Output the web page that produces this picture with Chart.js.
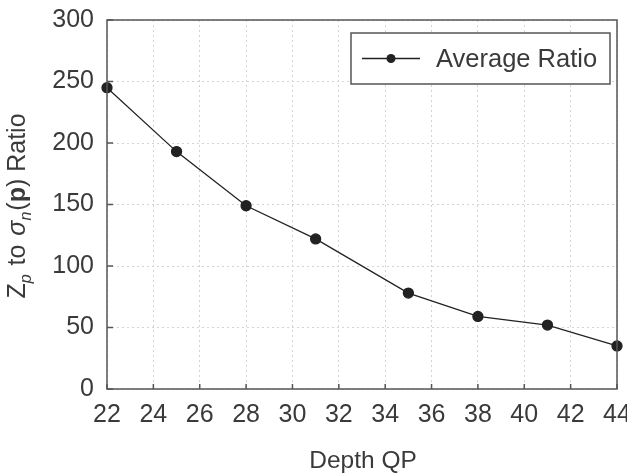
<!DOCTYPE html>
<html lang="en">
<head>
    <meta charset="UTF-8">
    <title>Average Ratio vs Depth QP</title>
    <script src="https://cdn.jsdelivr.net/npm/chart.js"></script>
    <style>
        body { margin: 0; padding: 0; background: #fff; }
        .wrap { width: 627px; height: 475px; position: relative; }
    </style>
</head>
<body>
    <div class="wrap">
        <canvas id="ratioChart" width="627" height="475"></canvas>
    </div>

    <script>
        // values
        const depthQP = [22, 25, 28, 31, 35, 38, 41, 44];
        const avgRatio = [245, 193, 149, 122, 78, 59, 52, 35];
        const xTicks = [22, 24, 26, 28, 30, 32, 34, 36, 38, 40, 42, 44];
        const yTicks = [0, 50, 100, 150, 200, 250, 300];
        const seriesName = 'Average Ratio';

        const FONT = '"Liberation Sans", Arial, sans-serif';
        const TEXT = '#3a3a3a';
        const AXIS = '#555';

        // box, inward ticks, axis titles and legend
        const decor = {
            id: 'decor',
            afterDraw(chart) {
                const c = chart.ctx;
                const a = chart.chartArea;
                const xs = chart.scales.x, ys = chart.scales.y;
                c.save();
                c.strokeStyle = AXIS;
                c.lineWidth = 1.5;
                c.strokeRect(a.left, a.top, a.right - a.left, a.bottom - a.top);

                c.beginPath();
                xTicks.forEach(v => {
                    const px = xs.getPixelForValue(v);
                    c.moveTo(px, a.bottom);
                    c.lineTo(px, a.bottom - 5);
                });
                yTicks.forEach(v => {
                    const py = ys.getPixelForValue(v);
                    c.moveTo(a.left, py);
                    c.lineTo(a.left + 6, py);
                });
                c.stroke();

                // x title
                c.fillStyle = TEXT;
                c.font = '24.5px ' + FONT;
                c.textAlign = 'center';
                c.textBaseline = 'alphabetic';
                c.fillText('Depth QP', (a.left + a.right) / 2 + 1, 468);

                // y title: Z_p to σ_n(p) Ratio
                const parts = [
                    { t: 'Z', f: '25px ' + FONT, dy: 0, gap: 0 },
                    { t: 'p', f: 'italic 16px ' + FONT, dy: 6, gap: 2 },
                    { t: ' to ', f: '25px ' + FONT, dy: 0, gap: 2 },
                    { t: 'σ', f: 'italic 25px ' + FONT, dy: 0, gap: 0 },
                    { t: 'n', f: 'italic 16px ' + FONT, dy: 6, gap: 1 },
                    { t: '(', f: '25px ' + FONT, dy: 0, gap: 0 },
                    { t: 'p', f: 'bold 25px ' + FONT, dy: 0, gap: 0 },
                    { t: ') Ratio', f: '25px ' + FONT, dy: 0, gap: 0 }
                ];
                let total = 0;
                parts.forEach(p => { c.font = p.f; p.w = c.measureText(p.t).width + p.gap; total += p.w; });
                c.translate(25, 206);
                c.rotate(-Math.PI / 2);
                c.textAlign = 'left';
                let x = -total / 2;
                parts.forEach(p => {
                    c.font = p.f;
                    c.fillText(p.t, x, p.dy);
                    x += p.w;
                });
                c.restore();

                // legend
                c.save();
                const lx = 351, ly = 33, lw = 259, lh = 51;
                c.fillStyle = '#fff';
                c.fillRect(lx, ly, lw, lh);
                c.strokeStyle = AXIS;
                c.lineWidth = 1.5;
                c.strokeRect(lx, ly, lw, lh);
                const my = ly + lh / 2;
                c.strokeStyle = '#222';
                c.lineWidth = 1.3;
                c.beginPath();
                c.moveTo(362, my);
                c.lineTo(420, my);
                c.stroke();
                c.fillStyle = '#222';
                c.beginPath();
                c.arc(391, my, 4.5, 0, Math.PI * 2);
                c.fill();
                c.fillStyle = TEXT;
                c.font = '25.5px ' + FONT;
                c.textBaseline = 'middle';
                c.fillText(chart.data.datasets[0].label, 436, my + 1);
                c.restore();
            }
        };

        const ctx = document.getElementById('ratioChart').getContext('2d');
        const ratioChart = new Chart(ctx, {
            type: 'line',
            data: {
                datasets: [{
                    label: seriesName,
                    data: depthQP.map((q, i) => ({ x: q, y: avgRatio[i] })),
                    borderColor: '#222',
                    backgroundColor: '#222',
                    borderWidth: 1.3,
                    pointRadius: 5,
                    pointHoverRadius: 5,
                    tension: 0,
                    clip: false
                }]
            },
            options: {
                responsive: false,
                animation: false,
                layout: { padding: { left: 0, right: 10, top: 20, bottom: 0 } },
                plugins: { legend: { display: false }, tooltip: { enabled: false } },
                scales: {
                    x: {
                        type: 'linear',
                        min: 22,
                        max: 44,
                        afterBuildTicks: s => { s.ticks = xTicks.map(v => ({ value: v })); },
                        afterFit: s => { s.height = 86; s.paddingLeft = 0; s.paddingRight = 0; },
                        grid: { color: '#d4d4d4', lineWidth: 1, drawTicks: false },
                        border: { display: false, dash: [2, 3] },
                        ticks: { color: TEXT, font: { family: FONT, size: 25 }, padding: 11, maxRotation: 0 }
                    },
                    y: {
                        min: 0,
                        max: 300,
                        afterBuildTicks: s => { s.ticks = yTicks.map(v => ({ value: v })); },
                        afterFit: s => { s.width = 107; s.paddingTop = 0; s.paddingBottom = 0; },
                        grid: { color: '#d4d4d4', lineWidth: 1, drawTicks: false },
                        border: { display: false, dash: [2, 3] },
                        ticks: { color: TEXT, font: { family: FONT, size: 25 }, padding: 13 }
                    }
                }
            },
            plugins: [decor]
        });
    </script>
</body>
</html>
